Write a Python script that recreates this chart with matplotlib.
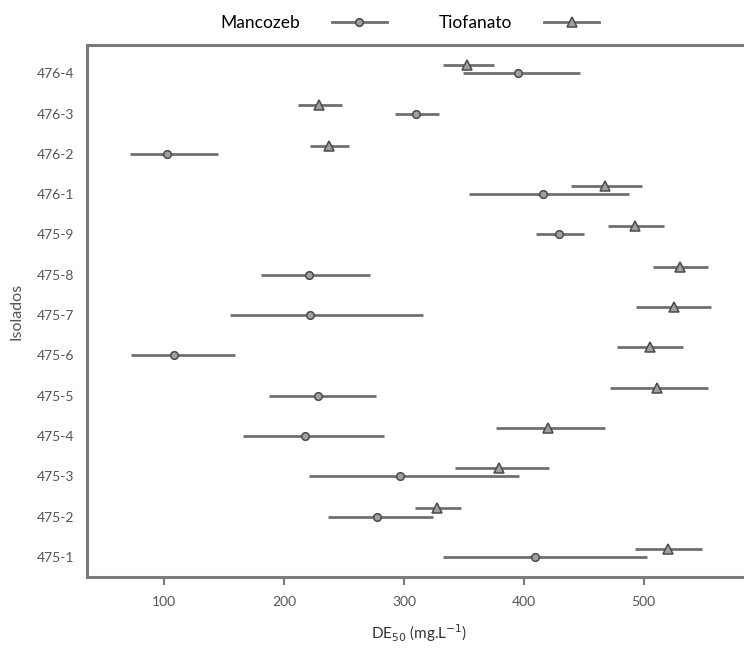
import matplotlib
matplotlib.use("Agg")
import matplotlib.pyplot as plt
from matplotlib.lines import Line2D
import numpy as np

plt.rcParams['font.family'] = ['Lato', 'DejaVu Sans']

isolados = ["475-1", "475-2", "475-3", "475-4", "475-5", "475-6", "475-7",
            "475-8", "475-9", "476-1", "476-2", "476-3", "476-4"]

mancozeb = [409, 277.5, 297, 217.5, 228, 108, 222, 221, 429, 416, 102.5, 310, 395]
mancozeb_lo = [333, 236.5, 221, 166, 187.5, 72.5, 155, 181, 410, 354, 71.7, 292.5, 349]
mancozeb_hi = [502.5, 324, 396, 283, 277, 159, 316, 272, 450, 488, 145, 329, 447]

tiofanato = [520, 328, 379, 420, 511, 505, 525, 530, 493, 467.5, 237.5, 229, 353]
tiofanato_lo = [492.5, 309, 342.5, 377, 472, 478, 494, 507.5, 470, 439, 222, 212, 333]
tiofanato_hi = [549, 348, 421, 467.5, 554, 533, 556.5, 554, 517, 499, 254, 248, 375]

line_c = "#707070"
face_c = "#a0a0a0"
edge_c = "#4a4a4a"

fig = plt.figure(figsize=(7.44, 6.58), dpi=100)
ax = fig.add_axes([87/744, 81/658, 1 - 87/744 + 0.01, (577-45)/658])

y = np.arange(len(isolados))
m = np.array(mancozeb); t = np.array(tiofanato)
m_err = [m - np.array(mancozeb_lo), np.array(mancozeb_hi) - m]
t_err = [t - np.array(tiofanato_lo), np.array(tiofanato_hi) - t]

ax.errorbar(m, y, xerr=m_err, fmt='o', color=line_c, ecolor=line_c, elinewidth=2.0,
            capsize=0, markersize=5.5, markerfacecolor=face_c, markeredgecolor=edge_c,
            markeredgewidth=1.1, zorder=3)
ax.errorbar(t, y + 0.2, xerr=t_err, fmt='^', color=line_c, ecolor=line_c, elinewidth=2.0,
            capsize=0, markersize=6.5, markerfacecolor=face_c, markeredgecolor=edge_c,
            markeredgewidth=1.1, zorder=3)

ax.set_xlim(35.5, 590)
ax.set_ylim(-0.5, 12.7)
ax.set_yticks(y)
ax.set_yticklabels(isolados)
ax.set_xticks([100, 200, 300, 400, 500])

for s in ['left', 'bottom', 'top']:
    ax.spines[s].set_color("#7a7a7a")
    ax.spines[s].set_linewidth(2.2)
ax.spines['right'].set_visible(False)

ax.tick_params(axis='y', length=0, pad=9, labelsize=10, labelcolor="#555555")
ax.tick_params(axis='x', length=6, width=1.5, color="#7a7a7a", pad=8,
               labelsize=10, labelcolor="#555555")

ax.set_xlabel('DE$_{50}$ (mg.L$^{-1}$)', fontsize=11, color="#333333", labelpad=10)
ax.set_ylabel('Isolados', fontsize=11.5, color="#555555", labelpad=10)

handles = [
    Line2D([], [], color=line_c, lw=2.0, marker='o', markersize=5.5,
           markerfacecolor=face_c, markeredgecolor=edge_c, markeredgewidth=1.1),
    Line2D([], [], color=line_c, lw=2.0, marker='^', markersize=6.5,
           markerfacecolor=face_c, markeredgecolor=edge_c, markeredgewidth=1.1),
]
fig.legend(handles, ["Mancozeb", "Tiofanato"], loc='center', bbox_to_anchor=(0.551, 0.965),
           ncol=2, frameon=False, markerfirst=False, fontsize=12.5,
           handlelength=3.2, handletextpad=1.8, columnspacing=3.0)

fig.savefig("out.png", dpi=100)
